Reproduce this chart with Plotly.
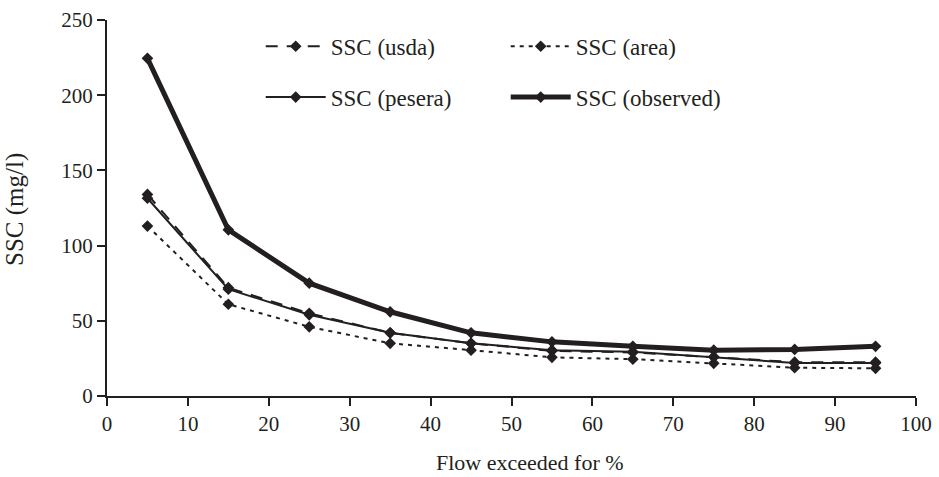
import plotly.graph_objects as go

flow_pct = [5, 15, 25, 35, 45, 55, 65, 75, 85, 95]
ssc_usda = [134, 72, 55, 42, 35, 30, 29, 26, 22.5, 22.5]
ssc_area = [113, 61, 46, 35, 30.5, 25.7, 24.5, 21.7, 18.8, 18.4]
ssc_pesera = [131.5, 71, 54, 42, 35, 30.5, 29.5, 26, 22, 22]
ssc_observed = [224.5, 110.5, 75, 56, 42, 36, 33, 30.5, 31, 33]

x_ticks = [0, 10, 20, 30, 40, 50, 60, 70, 80, 90, 100]
y_ticks = [0, 50, 100, 150, 200, 250]
x_title = "Flow exceeded for %"
y_title = "SSC (mg/l)"

INK = "#231f20"
FONT = "Liberation Serif"

fig = go.Figure()
mk = dict(symbol="diamond", size=9, color=INK)

fig.add_trace(go.Scatter(x=flow_pct, y=ssc_area, name="SSC (area)", mode="lines+markers",
                         line=dict(color=INK, width=2, dash="4px,5px"), marker=mk, legend="legend"))
fig.add_trace(go.Scatter(x=flow_pct, y=ssc_usda, name="SSC (usda)", mode="lines+markers",
                         line=dict(color=INK, width=2, dash="12px,9px"), marker=mk, legend="legend"))
fig.add_trace(go.Scatter(x=flow_pct, y=ssc_pesera, name="SSC (pesera)", mode="lines+markers",
                         line=dict(color=INK, width=2), marker=mk, legend="legend2"))
fig.add_trace(go.Scatter(x=flow_pct, y=ssc_observed, name="SSC (observed)", mode="lines+markers",
                         line=dict(color=INK, width=5), marker=mk, legend="legend2"))

leg_common = dict(orientation="h", xanchor="left", yanchor="middle", bgcolor="rgba(0,0,0,0)",
                  font=dict(family=FONT, size=23, color=INK), traceorder="reversed",
                  entrywidth=170, entrywidthmode="pixels", itemwidth=60)

fig.update_layout(
    width=939, height=477,
    margin=dict(l=107, r=23, t=20, b=81),
    paper_bgcolor="white", plot_bgcolor="white",
    font=dict(family=FONT, size=21, color=INK),
    legend=dict(x=0.19, y=0.93, **leg_common),
    legend2=dict(x=0.19, y=0.795, **{**leg_common, "traceorder": "normal"}),
    xaxis=dict(range=[0, 100], tickvals=x_ticks, ticktext=[str(v) for v in x_ticks],
               showgrid=False, zeroline=False, showline=True, linecolor=INK, linewidth=2,
               ticks="outside", ticklen=8, tickwidth=2, tickcolor=INK, automargin=False,
               tickfont=dict(family=FONT, size=21, color=INK)),
    yaxis=dict(range=[0, 250], tickvals=y_ticks, ticktext=[str(v) for v in y_ticks],
               showgrid=False, zeroline=False, showline=True, linecolor=INK, linewidth=2,
               ticks="outside", ticklen=8, tickwidth=2, tickcolor=INK, automargin=False,
               tickfont=dict(family=FONT, size=21, color=INK)),
    annotations=[
        dict(text=x_title, xref="paper", yref="paper", x=(530 - 107) / 809, y=-(462 - 396) / 376,
             xanchor="center", yanchor="middle", showarrow=False,
             font=dict(family=FONT, size=22, color=INK)),
        dict(text=y_title, xref="paper", yref="paper", x=-(107 - 15) / 809, y=(396 - 210) / 376,
             xanchor="center", yanchor="middle", showarrow=False, textangle=-90,
             font=dict(family=FONT, size=25, color=INK)),
    ],
)

fig.write_html("out.html")
